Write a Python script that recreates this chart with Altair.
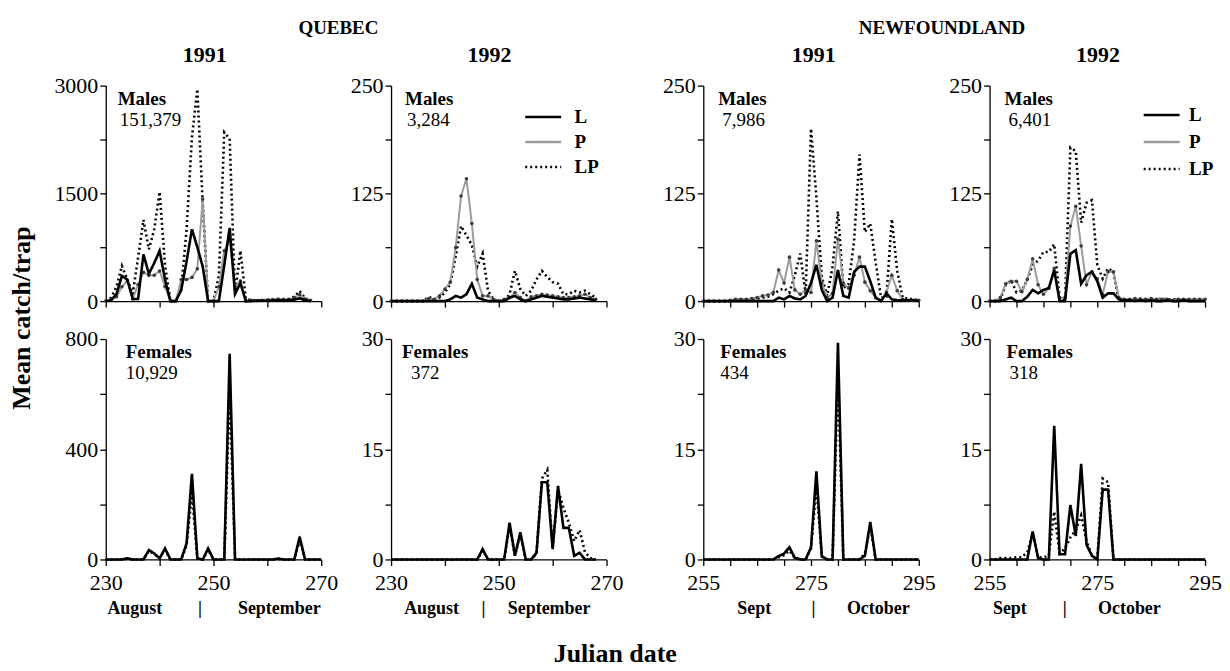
import altair as alt
import pandas as pd

FONT = "Liberation Serif"

# ---------------- data ----------------
# Quebec 1991, males, days 230..268
q91_m_days = list(range(230, 269))
q91_m_L = [0, 10, 100, 350, 300, 30, 30, 650, 380, 530, 700, 300, 0, 0, 150, 550, 1000, 750, 480, 0,
           0, 0, 500, 1020, 100, 250, 0, 0, 5, 5, 5, 10, 10, 10, 15, 20, 40, 10, 0]
q91_m_P = [0, 30, 60, 200, 280, 30, 230, 400, 360, 360, 420, 200, 0, 0, 300, 300, 330, 450, 1420, 0,
           0, 200, 700, 850, 200, 280, 0, 10, 5, 10, 15, 20, 30, 25, 20, 50, 90, 30, 10]
q91_m_LP = [0, 50, 200, 490, 300, 100, 600, 1130, 720, 1000, 1520, 500, 0, 0, 165, 990, 2280, 2950, 1360, 0,
            0, 350, 2350, 2260, 100, 700, 30, 10, 15, 10, 20, 15, 10, 20, 30, 60, 140, 40, 10]

# Quebec 1991, females, days 230..270
q91_f_days = list(range(230, 271))
q91_f_L = [0, 0, 0, 0, 4, 0, 0, 0, 34, 22, 4, 40, 0, 0, 0, 58, 311, 4, 0, 40,
           0, 0, 0, 746, 0, 0, 0, 0, 0, 0, 0, 0, 3, 0, 0, 0, 82, 0, 0, 0, 0]
q91_f_LP = [0, 0, 0, 0, 3, 0, 0, 0, 30, 20, 4, 35, 0, 0, 0, 50, 240, 4, 0, 35,
            0, 0, 0, 620, 0, 0, 0, 0, 0, 0, 0, 0, 2, 0, 0, 0, 70, 0, 0, 0, 0]

# Quebec 1992, males, days 230..268
q92_m_days = list(range(230, 269))
q92_m_L = [0, 0, 0, 0, 0, 0, 0, 0, 0, 0, 0, 2, 6, 4, 8, 20, 4, 2, 0, 0,
           0, 0, 4, 6, 2, 0, 2, 4, 6, 5, 4, 3, 2, 2, 3, 4, 3, 2, 1]
q92_m_P = [0, 0, 0, 0, 0, 0, 0, 3, 2, 6, 14, 22, 62, 122, 142, 90, 25, 6, 6, 2,
           0, 2, 4, 10, 4, 0, 5, 6, 8, 7, 6, 5, 4, 4, 5, 6, 8, 4, 2]
q92_m_LP = [0, 0, 0, 0, 0, 0, 0, 5, 2, 4, 10, 20, 52, 87, 76, 65, 40, 55, 12, 2,
            0, 0, 8, 35, 14, 6, 12, 25, 35, 28, 22, 20, 8, 8, 12, 10, 12, 8, 4]

# Quebec 1992, females, days 230..268
q92_f_days = list(range(230, 269))
q92_f_L = [0, 0, 0, 0, 0, 0, 0, 0, 0, 0, 0, 0, 0, 0, 0, 0, 0, 1.4, 0, 0,
           0, 0, 5, 0.5, 3.7, 0, 0, 0.9, 10.5, 10.5, 1.4, 10, 4.3, 4.3, 0.5, 0.9, 0, 0, 0]
q92_f_LP = [0, 0, 0, 0, 0, 0, 0, 0, 0, 0, 0, 0, 0, 0, 0, 0, 0, 1.2, 0, 0,
            0, 0, 4.5, 0.5, 3.5, 0, 0, 0.8, 11, 12.2, 1.5, 9.5, 7, 5, 2.5, 4, 1, 0.2, 0]

# Newfoundland 1991, males, days 255..295
nf91_m_days = list(range(255, 296))
nf91_m_L = [0, 0, 0, 0, 0, 0, 0, 0, 0, 0, 0, 0, 0, 0, 4, 2, 6, 3, 2, 6,
            21, 42, 13, 0, 4, 36, 6, 4, 34, 40, 40, 23, 4, 0, 9, 2, 1, 1, 1, 1, 0]
nf91_m_P = [0, 0, 0, 0, 0, 1, 2, 2, 2, 3, 4, 6, 7, 10, 36, 21, 51, 13, 8, 13,
            10, 70, 21, 4, 9, 72, 21, 15, 30, 51, 22, 12, 4, 1, 10, 30, 12, 2, 1, 1, 1]
nf91_m_LP = [0, 0, 0, 0, 0, 0, 2, 2, 1, 2, 3, 4, 5, 8, 12, 15, 10, 30, 55, 8,
             200, 120, 28, 6, 40, 104, 15, 20, 70, 170, 80, 90, 45, 4, 5, 95, 35, 4, 3, 2, 1]

# Newfoundland 1991, females, days 255..295
nf91_f_days = list(range(255, 296))
nf91_f_L = [0, 0, 0, 0, 0, 0, 0, 0, 0, 0, 0, 0, 0, 0, 0.45, 0.8, 1.65, 0.2, 0, 0,
            1.65, 12, 0.45, 0, 0, 29.5, 0, 0, 0, 0, 0.5, 5.1, 0, 0, 0, 0, 0, 0, 0, 0, 0]
nf91_f_LP = [0, 0, 0, 0, 0, 0, 0, 0, 0, 0, 0, 0, 0, 0, 0.3, 0.6, 1.2, 0.2, 0, 0,
             1.5, 10, 0.4, 0, 0, 25, 0, 0, 0, 0, 0.8, 4.5, 0, 0, 0, 0, 0, 0, 0, 0, 0]

# Newfoundland 1992, males, days 255..295
nf92_m_days = list(range(255, 296))
nf92_m_L = [0, 0, 0, 2, 4, 0, 0, 5, 13, 9, 13, 15, 36, 0, 0, 55, 59, 20, 30, 34,
            23, 4, 9, 9, 2, 1, 1, 0, 1, 0, 1, 0, 0, 1, 0, 0, 1, 0, 0, 0, 0]
nf92_m_P = [0, 0, 4, 20, 23, 23, 11, 25, 49, 19, 8, 15, 38, 4, 4, 87, 110, 64, 19, 34,
            26, 8, 34, 34, 4, 2, 2, 3, 2, 2, 3, 2, 2, 2, 1, 2, 2, 2, 2, 2, 2]
nf92_m_LP = [0, 0, 2, 19, 24, 10, 12, 25, 42, 47, 57, 57, 66, 4, 0, 178, 174, 91, 114, 117,
             42, 26, 38, 34, 0, 2, 2, 2, 3, 2, 2, 2, 3, 2, 2, 2, 2, 2, 2, 2, 2]

# Newfoundland 1992, females, days 255..295
nf92_f_days = list(range(255, 296))
nf92_f_L = [0, 0, 0, 0, 0, 0, 0, 0, 3.8, 0.2, 0, 0, 18.2, 0.7, 0.7, 7.4, 3.2, 13, 2, 0.5,
            0, 9.5, 9.5, 0, 0, 0, 0, 0, 0, 0, 0, 0, 0, 0, 0, 0, 0, 0, 0, 0, 0]
nf92_f_LP = [0, 0, 0.2, 0.2, 0.2, 0.3, 0.3, 1, 3.5, 0.3, 0.3, 0.5, 6.5, 0.8, 1.5, 3, 4, 6, 2.5, 0.5,
             0, 11, 10.5, 0, 0, 0, 0, 0, 0, 0, 0, 0, 0, 0, 0, 0, 0, 0, 0, 0, 0]

series_names = ["L", "P", "LP"]
series_colors = ["black", "#9c9c9c", "black"]
series_dashes = [[1, 0], [1, 0], [2, 3]]

panel_labels = ["Males", "Females"]
totals = {"q91": ["151,379", "10,929"], "q92": ["3,284", "372"],
          "nf91": ["7,986", "434"], "nf92": ["6,401", "318"]}
region_titles = ["QUEBEC", "NEWFOUNDLAND"]
year_titles = ["1991", "1992"]
NB = "\u00a0"
month_q91 = "August" + NB * 8 + "|" + NB * 8 + "September"
month_q92 = "August" + NB * 5 + "|" + NB * 5 + "September"
month_nf91 = "Sept" + NB * 9 + "|" + NB * 7 + "October"
month_nf92 = "Sept" + NB * 8 + "|" + NB * 7 + "October"

W = 216
H_TOP = 216
H_BOT = 221

color_scale = alt.Scale(domain=series_names, range=series_colors)
dash_scale = alt.Scale(domain=series_names, range=series_dashes)

IND = dict(color="independent", strokeDash="independent")


def panel(days, series, ymax, xdom, xstep, bottom, label, total, height,
          month=None, month_dx=0, legend_xy=None, lab_dx=15, num_dx=17):
    xaxis_kw = dict(values=list(range(xdom[0], xdom[1] + 1, xstep)),
                    labels=bottom, labelFlush=False, labelOverlap=False, labelPadding=7,
                    labelExpr=f"(datum.value - {xdom[0]}) % 20 == 0 ? datum.label : ''")
    if bottom:
        xaxis_kw.update(title=month, titleFontSize=18, titleFontWeight="bold",
                        titleX=W / 2 + month_dx, titleY=49, titleAlign="center",
                        titleBaseline="middle")
    else:
        xaxis_kw.update(title=None)
    xaxis = alt.Axis(**xaxis_kw)
    yaxis = alt.Axis(values=[ymax * i / 4 for i in range(5)], format="d",
                     labelExpr=f"datum.value % {ymax / 2} == 0 ? datum.label : ''",
                     labelOverlap=False, title=None)
    X = alt.X("day:Q", scale=alt.Scale(domain=xdom, nice=False, zero=False), axis=xaxis)
    Y = alt.Y("value:Q", scale=alt.Scale(domain=[0, ymax], nice=False), axis=yaxis)
    if legend_xy is not None:
        leg = alt.Legend(orient="none", legendX=legend_xy[0], legendY=legend_xy[1], title=None,
                         symbolType="M-1.5,0H1.5", symbolSize=576, symbolStrokeWidth=2.5,
                         labelFont=FONT, labelFontSize=19, labelFontWeight="bold",
                         labelColor="black", rowPadding=legend_xy[2], labelOffset=legend_xy[3])
    else:
        leg = None
    layers = []
    for name in ["LP", "P", "L"]:
        if name not in series:
            continue
        df = pd.DataFrame({"day": days, "value": series[name], "series": name})
        base = alt.Chart(df)
        width = 2.6 if name != "P" else 2.0
        layers.append(base.mark_line(strokeWidth=width, strokeCap="butt").encode(
            x=X, y=Y,
            color=alt.Color("series:N", scale=color_scale, legend=leg),
            strokeDash=alt.StrokeDash("series:N", scale=dash_scale, legend=leg)))
        if name == "P":
            layers.append(base.mark_circle(size=13, color="#3c3c3c", opacity=1).encode(x=X, y=Y))
    tdf = pd.DataFrame({"label": [label], "total": [total]})
    layers.append(alt.Chart(tdf).mark_text(align="left", baseline="middle", font=FONT,
                                           fontSize=19, fontWeight="bold", color="black").encode(
        x=alt.value(lab_dx), y=alt.value(13), text="label:N"))
    layers.append(alt.Chart(tdf).mark_text(align="left", baseline="middle", font=FONT,
                                           fontSize=19, color="black").encode(
        x=alt.value(num_dx), y=alt.value(34), text="total:N"))
    return alt.layer(*layers).properties(width=W, height=height)


def column(top, bot, year, dx):
    return alt.vconcat(top, bot, spacing=16).resolve_scale(
        x="independent", y="independent").resolve_legend(**IND).properties(
        title=alt.TitleParams(year, font=FONT, fontSize=22, fontWeight="bold",
                              anchor="middle", offset=8, dx=dx))


Q = [230, 270]
N = [255, 295]

c1 = column(
    panel(q91_m_days, {"L": q91_m_L, "P": q91_m_P, "LP": q91_m_LP}, 3000, Q, 10, False,
          panel_labels[0], totals["q91"][0], H_TOP, lab_dx=12, num_dx=14),
    panel(q91_f_days, {"L": q91_f_L, "LP": q91_f_LP}, 800, Q, 10, True,
          panel_labels[1], totals["q91"][1], H_BOT, month=month_q91, month_dx=0,
          lab_dx=20, num_dx=20),
    year_titles[0], 9)
c2 = column(
    panel(q92_m_days, {"L": q92_m_L, "P": q92_m_P, "LP": q92_m_LP}, 250, Q, 10, False,
          panel_labels[0], totals["q92"][0], H_TOP, legend_xy=(139, 18, 1, 18),
          lab_dx=14, num_dx=16),
    panel(q92_f_days, {"L": q92_f_L, "LP": q92_f_LP}, 30, Q, 10, True,
          panel_labels[1], totals["q92"][1], H_BOT, month=month_q92, month_dx=-2,
          lab_dx=11, num_dx=20),
    year_titles[1], 3)
c3 = column(
    panel(nf91_m_days, {"L": nf91_m_L, "P": nf91_m_P, "LP": nf91_m_LP}, 250, N, 5, False,
          panel_labels[0], totals["nf91"][0], H_TOP, lab_dx=15, num_dx=19),
    panel(nf91_f_days, {"L": nf91_f_L, "LP": nf91_f_LP}, 30, N, 5, True,
          panel_labels[1], totals["nf91"][1], H_BOT, month=month_nf91, month_dx=12,
          lab_dx=17, num_dx=17),
    year_titles[0], 15)
c4 = column(
    panel(nf92_m_days, {"L": nf92_m_L, "P": nf92_m_P, "LP": nf92_m_LP}, 250, N, 5, False,
          panel_labels[0], totals["nf92"][0], H_TOP, legend_xy=(159, 16, 3, 14),
          lab_dx=15, num_dx=19),
    panel(nf92_f_days, {"L": nf92_f_L, "LP": nf92_f_LP}, 30, N, 5, True,
          panel_labels[1], totals["nf92"][1], H_BOT, month=month_nf92, month_dx=-21,
          lab_dx=17, num_dx=20),
    year_titles[1], 13)


def group(a, b, spacing, title):
    return alt.hconcat(a, b, spacing=spacing).resolve_scale(
        x="independent", y="independent").resolve_legend(**IND).properties(
        title=alt.TitleParams(title, font=FONT, fontSize=19, fontWeight="bold",
                              anchor="middle", offset=6))


quebec = group(c1, c2, 12, region_titles[0])
newf = group(c3, c4, 13, region_titles[1])

mid = alt.hconcat(quebec, newf, spacing=39).resolve_scale(
    x="independent", y="independent").resolve_legend(**IND).properties(
    title=alt.TitleParams("Mean catch/trap", orient="left", anchor="middle", font=FONT,
                          fontSize=26, fontWeight="bold", offset=19))

chart = alt.vconcat(mid).resolve_legend(**IND).properties(
    title=alt.TitleParams("Julian date", orient="bottom", anchor="middle", font=FONT,
                          fontSize=26, fontWeight="bold", offset=24),
    padding={"left": 0, "top": 10, "right": 0, "bottom": 0}
).configure_view(stroke=None).configure_axis(
    domainColor="black", domainWidth=1.3, tickColor="black", tickWidth=1.3, tickSize=6,
    labelFont=FONT, labelFontSize=22, labelColor="black", labelPadding=2, grid=False,
    titleFont=FONT, titleColor="black"
).configure_title(color="black")

chart.save("out.html", embed_options={"renderer": "svg", "actions": False})
